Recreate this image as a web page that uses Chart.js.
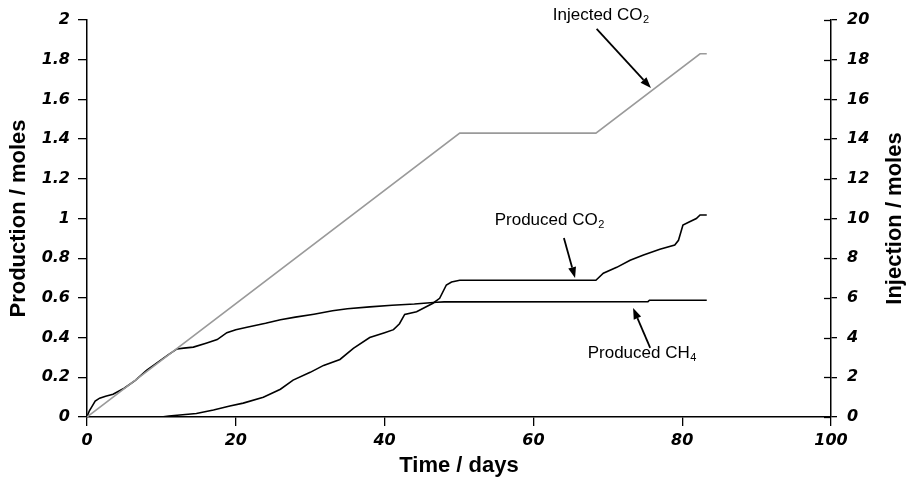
<!DOCTYPE html>
<html>
<head>
<meta charset="utf-8">
<title>Production and injection</title>
<script src="https://cdn.jsdelivr.net/npm/chart.js@4.4.1/dist/chart.umd.min.js"></script>
<style>
	body { margin: 0; background: #fff; }
	canvas { display: block; }
</style>
</head>
<body>
<canvas id="moleChart" width="908" height="483"></canvas>
<script>

// Series data (days / moles)

const ch4Days = [0, 0.3, 0.7, 1.1, 1.7, 2.5, 3.5, 5, 6.5, 8, 9.5, 11, 12.1, 13, 14.3, 16, 17.5, 18.8, 20, 21.5, 24, 26, 28, 30.5, 33, 35, 38, 41, 44, 47, 48, 75.4, 75.6, 83.3];
const ch4Moles = [0, 0.03, 0.055, 0.08, 0.095, 0.105, 0.115, 0.145, 0.185, 0.235, 0.275, 0.315, 0.343, 0.347, 0.352, 0.372, 0.39, 0.425, 0.44, 0.452, 0.472, 0.49, 0.503, 0.518, 0.535, 0.545, 0.555, 0.563, 0.569, 0.578, 0.58, 0.581, 0.588, 0.588];

const co2Days = [0, 10, 11, 14.7, 17, 19.2, 21, 23.7, 26, 27.7, 30, 31.8, 34, 35.8, 38, 40, 41.2, 42, 42.7, 44.3, 46.5, 47.4, 48.3, 49, 50.1, 68.4, 69.4, 71.2, 73, 74.8, 77, 79, 79.5, 80.1, 81, 81.9, 82.4, 83.3];
const co2Moles = [0, 0, 0.005, 0.018, 0.035, 0.055, 0.07, 0.1, 0.14, 0.186, 0.225, 0.26, 0.29, 0.346, 0.4, 0.425, 0.44, 0.47, 0.517, 0.53, 0.573, 0.598, 0.665, 0.68, 0.689, 0.689, 0.724, 0.754, 0.79, 0.816, 0.845, 0.866, 0.89, 0.967, 0.984, 1.0, 1.018, 1.018];

const injDays = [0, 50.1, 68.4, 82.4, 83.3];
const injMoles = [0, 14.3, 14.3, 18.3, 18.3];

const dayTickLabels = ["0", "20", "40", "60", "80", "100"];
const prodTickLabels = ["0", "0.2", "0.4", "0.6", "0.8", "1", "1.2", "1.4", "1.6", "1.8", "2"];
const injTickLabels = ["0", "2", "4", "6", "8", "10", "12", "14", "16", "18", "20"];

// Labels with arrows, in axis units (x: days, y: production scale)
const callouts = [
	{ text: "Injected CO", sub: "2", tx: 62.6, ty: 2.025, from: [68.5, 1.955], to: [75.8, 1.657] },
	{ text: "Produced CO", sub: "2", tx: 54.8, ty: 0.992, from: [64.1, 0.902], to: [65.6, 0.70] },
	{ text: "Produced CH", sub: "4", tx: 67.3, ty: 0.322, from: [75.7, 0.348], to: [73.4, 0.549] }
];


const FONT = "Arial, 'Liberation Sans', Helvetica, sans-serif";

function points(xs, ys){
	return xs.map((x, i) => ({ x: x, y: ys[i] }));
}

const tickFont = { family: "'DejaVu Sans', sans-serif", size: 16, weight: "bold", style: "italic" };
const titleFont = { family: FONT, size: 22, weight: "bold" };


// Callouts, right-hand title and inner half of the right ticks

const extrasPlugin = {
	id: "extras",
	afterDraw(chart){
		const ctx = chart.ctx;
		const x = chart.scales.x;
		const y = chart.scales.y;
		const y2 = chart.scales.y2;

		ctx.save();
		ctx.strokeStyle = "#000";
		ctx.lineWidth = 1.3;
		y2.ticks.forEach(t => {
			let py = Math.round(y2.getPixelForValue(t.value)) + 0.5;
			ctx.beginPath();
			ctx.moveTo(y2.left, py);
			ctx.lineTo(y2.left - 7, py);
			ctx.stroke();
		});

		// callouts
		callouts.forEach(c => {
			let px = x.getPixelForValue(c.tx);
			let py = y.getPixelForValue(c.ty);
			ctx.fillStyle = "#000";
			ctx.textBaseline = "middle";
			ctx.textAlign = "left";
			ctx.font = "17px " + FONT;
			ctx.fillText(c.text, px, py);
			let w = ctx.measureText(c.text).width;
			ctx.font = "11px " + FONT;
			ctx.fillText(c.sub, px + w + 0.5, py + 5);

			let x1 = x.getPixelForValue(c.from[0]), y1 = y.getPixelForValue(c.from[1]);
			let x2 = x.getPixelForValue(c.to[0]), y2p = y.getPixelForValue(c.to[1]);
			let ang = Math.atan2(y2p - y1, x2 - x1);
			let headLen = 11, headW = 4;
			let bx = x2 - headLen * Math.cos(ang), by = y2p - headLen * Math.sin(ang);
			ctx.lineWidth = 1.8;
			ctx.beginPath();
			ctx.moveTo(x1, y1);
			ctx.lineTo(bx, by);
			ctx.stroke();
			ctx.beginPath();
			ctx.moveTo(x2, y2p);
			ctx.lineTo(bx + headW * Math.sin(ang), by - headW * Math.cos(ang));
			ctx.lineTo(bx - headW * Math.sin(ang), by + headW * Math.cos(ang));
			ctx.closePath();
			ctx.fill();
		});

		// right axis title, reading upwards
		ctx.translate(y2.right - 13, (y2.top + y2.bottom) / 2);
		ctx.rotate(-Math.PI / 2);
		ctx.font = "bold 22px " + FONT;
		ctx.textAlign = "center";
		ctx.textBaseline = "middle";
		ctx.fillText("Injection / moles", 0, 0);
		ctx.restore();
	}
};


document.addEventListener("DOMContentLoaded", function(){

	const ctx = document.getElementById("moleChart").getContext("2d");

	new Chart(ctx, {
		type: "line",
		data: {
			datasets: [
				{
					label: "Injected CO2",
					data: points(injDays, injMoles),
					yAxisID: "y2",
					borderColor: "#9a9a9a",
					borderWidth: 1.6,
					pointRadius: 0,
					tension: 0
				},
				{
					label: "Produced CO2",
					data: points(co2Days, co2Moles),
					yAxisID: "y",
					borderColor: "#000",
					borderWidth: 1.6,
					pointRadius: 0,
					tension: 0
				},
				{
					label: "Produced CH4",
					data: points(ch4Days, ch4Moles),
					yAxisID: "y",
					borderColor: "#000",
					borderWidth: 1.6,
					pointRadius: 0,
					tension: 0
				}
			]
		},
		options: {
			responsive: false,
			animation: false,
			layout: { padding: { top: 20, left: 0, right: 0, bottom: 0 } },
			plugins: {
				legend: { display: false },
				tooltip: { enabled: false }
			},
			scales: {
				x: {
					type: "linear",
					min: 0, max: 100,
					ticks: { stepSize: 20, font: tickFont, color: "#000", padding: 5, maxRotation: 0,
						callback: (v, i) => dayTickLabels[i] },
					grid: { drawOnChartArea: false, color: "#000", tickLength: 9, lineWidth: 1.3 },
					border: { color: "#000", width: 1.5 },
					title: { display: true, text: "Time / days", font: titleFont, color: "#000", padding: { top: 0, bottom: 4 } },
					afterFit: s => { s.height = 66; }
				},
				y: {
					position: "left",
					min: 0, max: 2,
					ticks: { stepSize: 0.2, font: tickFont, color: "#000", padding: 8,
						callback: (v, i) => prodTickLabels[i] },
					grid: { drawOnChartArea: false, color: "#000", tickLength: 9, lineWidth: 1.3 },
					border: { color: "#000", width: 1.5 },
					title: { display: true, text: "Production / moles", font: titleFont, color: "#000", padding: { top: 6, bottom: 0 } },
					afterFit: s => { s.width = 87; }
				},
				y2: {
					position: "right",
					min: 0, max: 20,
					ticks: { stepSize: 2, font: tickFont, color: "#000", padding: 10,
						callback: (v, i) => injTickLabels[i] },
					grid: { drawOnChartArea: false, color: "#000", tickLength: 6, lineWidth: 1.3 },
					border: { color: "#000", width: 1.5 },
					afterFit: s => { s.width = 77; }
				}
			}
		},
		plugins: [extrasPlugin]
	});

});
</script>
</body>
</html>
